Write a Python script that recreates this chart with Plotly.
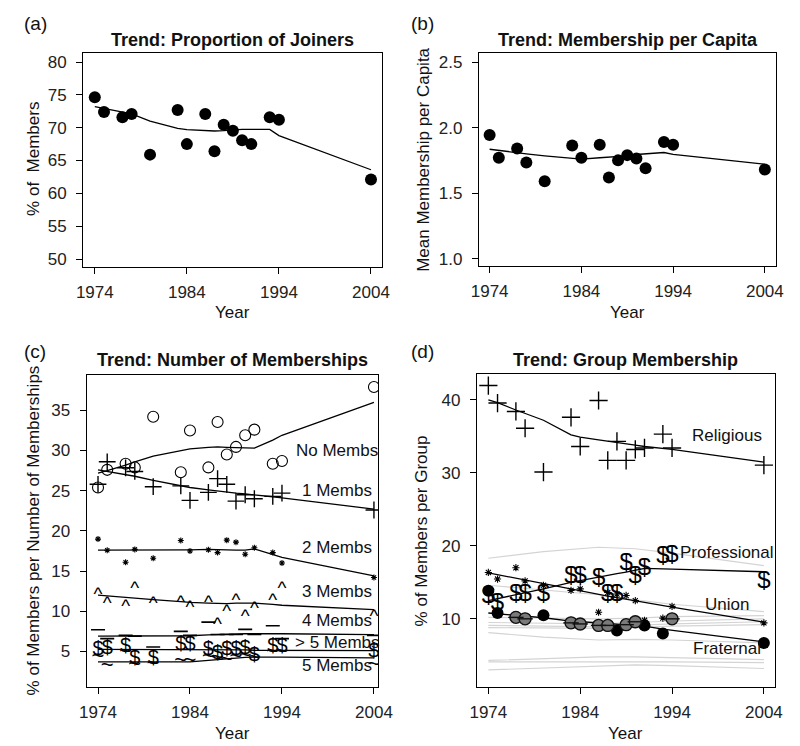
import plotly.graph_objects as go

W, H = 800, 746
FONT = "Liberation Sans, Arial, sans-serif"
TICKFONT = "Liberation Sans Narrow, Liberation Sans, Arial, sans-serif"

years = [1974, 1975, 1977, 1978, 1980, 1983, 1984, 1986, 1987, 1988, 1989, 1990, 1991, 1993, 1994, 2004]
year_ticks = [1974, 1984, 1994, 2004]

# (a) proportion of joiners
joiners = [74.65, 72.4, 71.6, 72.1, 65.9, 72.7, 67.5, 72.1, 66.4, 70.45, 69.55, 68.1, 67.5, 71.6, 71.2, 62.1]
joiners_trend = [73.2, 72.9, 72.4, 72.1, 71.0, 69.9, 69.7, 69.5, 69.5, 69.55, 69.7, 69.75, 69.75, 69.75, 68.8, 63.6]

# (b) membership per capita
per_capita = [1.944, 1.77, 1.84, 1.734, 1.59, 1.863, 1.77, 1.87, 1.62, 1.75, 1.79, 1.764, 1.69, 1.89, 1.87, 1.68]
per_capita_trend = [1.835, 1.825, 1.81, 1.80, 1.785, 1.765, 1.76, 1.77, 1.775, 1.775, 1.785, 1.795, 1.80, 1.81, 1.795, 1.72]

# (c) number of memberships (%)
no_membs = [25.4, 27.6, 28.35, 27.9, 34.2, 27.3, 32.5, 27.9, 33.55, 29.5, 30.45, 31.9, 32.6, 28.35, 28.7, 37.9]
no_membs_trend = [27.2, 27.5, 28.2, 28.6, 29.3, 30.0, 30.2, 30.4, 30.45, 30.4, 30.35, 30.3, 30.3, 31.3, 31.9, 36.0]
one_memb = [25.8, 28.6, 27.85, 27.4, 25.5, 25.6, 23.8, 24.8, 26.5, 25.8, 23.7, 24.5, 24.0, 24.3, 24.7, 22.6]
one_memb_trend = [27.6, 27.4, 27.0, 26.8, 26.3, 25.6, 25.4, 25.1, 24.95, 24.8, 24.7, 24.6, 24.5, 24.25, 24.1, 22.7]
two_membs = [18.98, 17.6, 16.1, 17.7, 16.6, 18.8, 17.5, 17.65, 17.3, 18.85, 18.6, 17.1, 17.9, 17.3, 16.0, 14.2]
two_membs_trend = [17.6, 17.6, 17.6, 17.6, 17.6, 17.6, 17.65, 17.7, 17.7, 17.65, 17.6, 17.6, 17.75, 17.0, 16.7, 14.4]
three_membs = [12.0, 10.85, 10.55, 12.75, 10.85, 10.95, 10.35, 10.95, 8.2, 9.85, 11.3, 9.25, 10.25, 11.3, 12.75, 9.25]
three_membs_trend = [12.0, 11.9, 11.75, 11.65, 11.45, 11.2, 11.1, 11.0, 10.95, 10.95, 11.0, 11.0, 11.0, 10.85, 10.75, 10.2]
four_membs = [7.7, 6.6, 7.0, 6.9, 5.55, 7.5, 7.0, 8.65, 7.1, 7.1, 7.1, 7.75, 7.1, 8.2, 6.6, 7.0]
four_membs_trend = [6.9, 6.9, 6.9, 6.9, 6.9, 6.95, 6.95, 7.05, 7.1, 7.15, 7.15, 7.2, 7.2, 7.2, 7.2, 7.1]
five_membs = [4.3, 3.1, 4.9, 3.3, 3.4, 3.7, 3.7, 4.2, 4.1, 3.9, 4.3, 4.4, 4.1, 4.9, 4.9, 3.3]
five_membs_trend = [3.7, 3.7, 3.7, 3.7, 3.7, 3.7, 3.7, 3.9, 4.0, 4.1, 4.2, 4.25, 4.3, 4.3, 4.3, 4.2]
over_five = [5.14, 5.35, 5.55, 4.1, 4.1, 5.75, 5.75, 5.15, 4.7, 5.15, 5.15, 5.3, 4.4, 5.55, 5.55, 4.9]
over_five_trend = [5.25, 5.25, 5.25, 5.25, 5.2, 5.2, 5.2, 5.2, 5.2, 5.2, 5.2, 5.2, 5.15, 5.15, 5.15, 5.1]

# (d) group membership (%)
religious = [41.95, 39.55, 38.4, 36.1, 30.1, 37.6, 33.6, 39.9, 31.7, 34.3, 31.7, 33.2, 33.4, 35.3, 33.4, 31.05]
religious_trend = [40.0, 39.6, 38.6, 38.1, 37.2, 35.2, 34.9, 34.5, 34.35, 34.2, 34.0, 33.8, 33.6, 33.3, 33.2, 31.45]
professional = [12.95, 12.05, 13.2, 13.2, 13.2, 15.7, 15.7, 15.45, 13.3, 13.3, 17.5, 15.7, 16.8, 18.4, 18.55, 15.0]
professional_trend = [12.5, 12.75, 13.3, 13.6, 14.1, 15.0, 15.25, 15.8, 16.0, 16.2, 16.4, 16.65, 16.9, 16.85, 16.8, 16.45]
union = [16.35, 15.45, 17.0, 15.2, 14.6, 13.9, 14.1, 10.9, 13.6, 13.4, 13.2, 12.5, 9.8, 10.1, 11.7, 9.45]
union_trend = [16.3, 16.05, 15.55, 15.3, 14.8, 14.1, 13.85, 13.3, 13.1, 12.9, 12.7, 12.5, 12.25, 11.85, 11.6, 9.55]
fraternal = [13.86, 10.8, 10.2, 10.0, 10.5, 9.45, 9.3, 9.1, 9.1, 8.4, 9.2, 9.6, 9.1, 8.0, 10.0, 6.7]
fraternal_trend = [10.8, 10.7, 10.45, 10.35, 10.15, 9.7, 9.6, 9.4, 9.3, 9.2, 9.15, 9.1, 9.0, 8.6, 8.45, 6.85]
# years whose fraternal point is drawn as a barred grey disc in the reference
fraternal_barred_years = [1977, 1978, 1983, 1984, 1986, 1987, 1989, 1990, 1994]

# other group-type trends (light grey)
other_years = [1974, 1980, 1986, 1990, 1994, 2004]
other_trends = [
    [18.3, 19.2, 19.8, 19.6, 19.0, 17.3],
    [14.6, 14.0, 13.3, 12.6, 12.0, 11.0],
    [10.2, 10.1, 10.0, 10.1, 10.3, 10.45],
    [9.5, 9.4, 9.3, 9.5, 9.7, 10.0],
    [9.1, 9.0, 8.9, 9.1, 9.3, 9.6],
    [8.8, 8.7, 8.7, 8.8, 9.0, 9.2],
    [8.1, 7.5, 7.1, 7.2, 7.1, 6.7],
    [4.3, 4.6, 4.8, 4.8, 4.7, 4.4],
    [4.1, 4.1, 4.2, 4.2, 4.1, 4.0],
    [3.0, 3.3, 3.6, 3.7, 3.6, 3.2],
]


def px(x):
    return x / W


def py(y):
    return 1 - y / H


fig = go.Figure()
LW = 1.3


def line(x, y, ax, color="black", width=LW):
    fig.add_trace(go.Scatter(x=x, y=y, mode="lines", line=dict(color=color, width=width),
                             xaxis="x" + ax, yaxis="y" + ax, showlegend=False, hoverinfo="skip"))


def marks(x, y, ax, **mk):
    fig.add_trace(go.Scatter(x=x, y=y, mode="markers", marker=mk,
                             xaxis="x" + ax, yaxis="y" + ax, showlegend=False))


def textmarks(x, y, ax, ch, size):
    fig.add_trace(go.Scatter(x=x, y=y, mode="text", text=[ch] * len(x), textposition="middle center",
                             textfont=dict(family=FONT, size=size, color="black"),
                             xaxis="x" + ax, yaxis="y" + ax, showlegend=False))


# panel a
line(years, joiners_trend, "")
marks(years, joiners, "", symbol="circle", size=12, color="black")
# panel b
line(years, per_capita_trend, "2")
marks(years, per_capita, "2", symbol="circle", size=12, color="black")

# panel c
for tr in [no_membs_trend, one_memb_trend, two_membs_trend, three_membs_trend,
           four_membs_trend, over_five_trend, five_membs_trend]:
    line(years, tr, "3")
marks(years, no_membs, "3", symbol="circle-open", size=11, color="black", line=dict(width=1.1, color="black"))
marks(years, one_memb, "3", symbol="cross-thin-open", size=12, color="black", line=dict(width=1.4, color="black"))
marks(years, two_membs, "3", symbol="asterisk-open", size=5, color="black", line=dict(width=1.1, color="black"))
textmarks(years, three_membs, "3", "^", 19)
marks(years, four_membs, "3", symbol="line-ew-open", size=10, color="black", line=dict(width=1.6, color="black"))
textmarks(years, over_five, "3", "$", 20)
textmarks(years, five_membs, "3", "~", 22)

# panel d
for tr in other_trends:
    line(other_years, tr, "4", color="#d4d4d4", width=1.2)
for tr in [religious_trend, professional_trend, union_trend, fraternal_trend]:
    line(years, tr, "4")
marks(years, religious, "4", symbol="cross-thin-open", size=13, color="black", line=dict(width=1.4, color="black"))
textmarks(years, professional, "4", "$", 24)
marks(years, union, "4", symbol="asterisk-open", size=6, color="black", line=dict(width=1.1, color="black"))
marks(years, fraternal, "4", symbol="circle", size=12, color="black")
bar_x = [yr for yr in years if yr in fraternal_barred_years]
bar_y = [v for yr, v in zip(years, fraternal) if yr in fraternal_barred_years]
marks(bar_x, bar_y, "4", symbol="circle", size=12, color="#7a7a7a", line=dict(width=1.4, color="#111"))
marks(bar_x, bar_y, "4", symbol="line-ew-open", size=11, color="#111", line=dict(width=1.4, color="#111"))

axis_common = dict(showline=True, mirror=True, linecolor="black", linewidth=1.2, ticks="outside",
                   ticklen=6, tickwidth=1.2, tickcolor="black", showgrid=False, zeroline=False,
                   tickfont=dict(family=TICKFONT, size=17, color="#222"))

panels = {
    "": dict(x=(69, 376), y=(45, 260), xr=[1972.73, 2005.16], yr=[48.8, 81.4], yt=[50, 55, 60, 65, 70, 75, 80]),
    "2": dict(x=(476, 782), y=(45, 259), xr=[1972.83, 2005.27], yr=[0.944, 2.571], yt=[1.0, 1.5, 2.0, 2.5]),
    "3": dict(x=(72.7, 372.7), y=(368, 681.7), xr=[1972.77, 2004.49], yr=[0.58, 39.46], yt=[5, 10, 15, 20, 25, 30, 35]),
    "4": dict(x=(474, 780), y=(367.7, 681.7), xr=[1972.76, 2005.16], yr=[0.67, 43.5], yt=[10, 20, 30, 40]),
}
layout = dict(width=W, height=H, margin=dict(l=0, r=0, t=0, b=0), plot_bgcolor="white",
              paper_bgcolor="white", showlegend=False)
for k, p in panels.items():
    xa = dict(axis_common, domain=[px(p["x"][0]), px(p["x"][1])], range=p["xr"], tickvals=year_ticks,
              ticklabelstandoff=4, anchor="y" + k)
    ya = dict(axis_common, domain=[py(p["y"][1]), py(p["y"][0])], range=p["yr"], tickvals=p["yt"],
              ticklabelstandoff=6, anchor="x" + k)
    if k == "2":
        ya["tickformat"] = ".1f"
    layout["xaxis" + k] = xa
    layout["yaxis" + k] = ya
fig.update_layout(**layout)

ann = []


def txt(x, y, s, size=17, bold=False, angle=0, xref="paper", yref="paper", xanchor="center"):
    ann.append(dict(x=x, y=y, xref=xref, yref=yref, text=("<b>%s</b>" % s) if bold else s, showarrow=False,
                    textangle=angle, xanchor=xanchor, yanchor="middle",
                    font=dict(family=FONT, size=size, color="#111")))


# panel letters
txt(px(20), py(16), "(a)", 19)
txt(px(418), py(16), "(b)", 19)
txt(px(20), py(345), "(c)", 19)
txt(px(418), py(345), "(d)", 19)
# titles
txt(px(222.5), py(32), "Trend: Proportion of Joiners", 18, True)
txt(px(629), py(32), "Trend: Membership per Capita", 18, True)
txt(px(222.7), py(353), "Trend: Number of Memberships", 18, True)
txt(px(627), py(353), "Trend: Group Membership", 18, True)
# x titles
txt(px(222.5), py(306), "Year", 17)
txt(px(629), py(306), "Year", 17)
txt(px(222.7), py(728), "Year", 17)
txt(px(627), py(728), "Year", 17)
# y titles
txt(px(18), py(152), "% of  Members", 17, angle=-90)
txt(px(419), py(152), "Mean Membership per Capita", 17, angle=-90)
txt(px(18), py(525), "% of Members per Number of Memberships", 17, angle=-90)
txt(px(417), py(525), "% of Members per Group", 17, angle=-90)

# series labels
for lab, yv in [("No Membs", 30.0), ("1 Membs", 25.0), ("2 Membs", 17.9), ("3 Membs", 12.45),
                ("4 Membs", 8.9), ("&gt; 5 Membs", 6.1), ("5 Membs", 3.3)]:
    txt(2000, yv, lab, 17, xref="x3", yref="y3")
for lab, yv in [("Religious", 35.1), ("Professional", 19.1), ("Union", 11.9), ("Fraternal", 5.9)]:
    txt(2000, yv, lab, 17, xref="x4", yref="y4")

fig.update_layout(annotations=ann)
fig.write_html("out.html")
